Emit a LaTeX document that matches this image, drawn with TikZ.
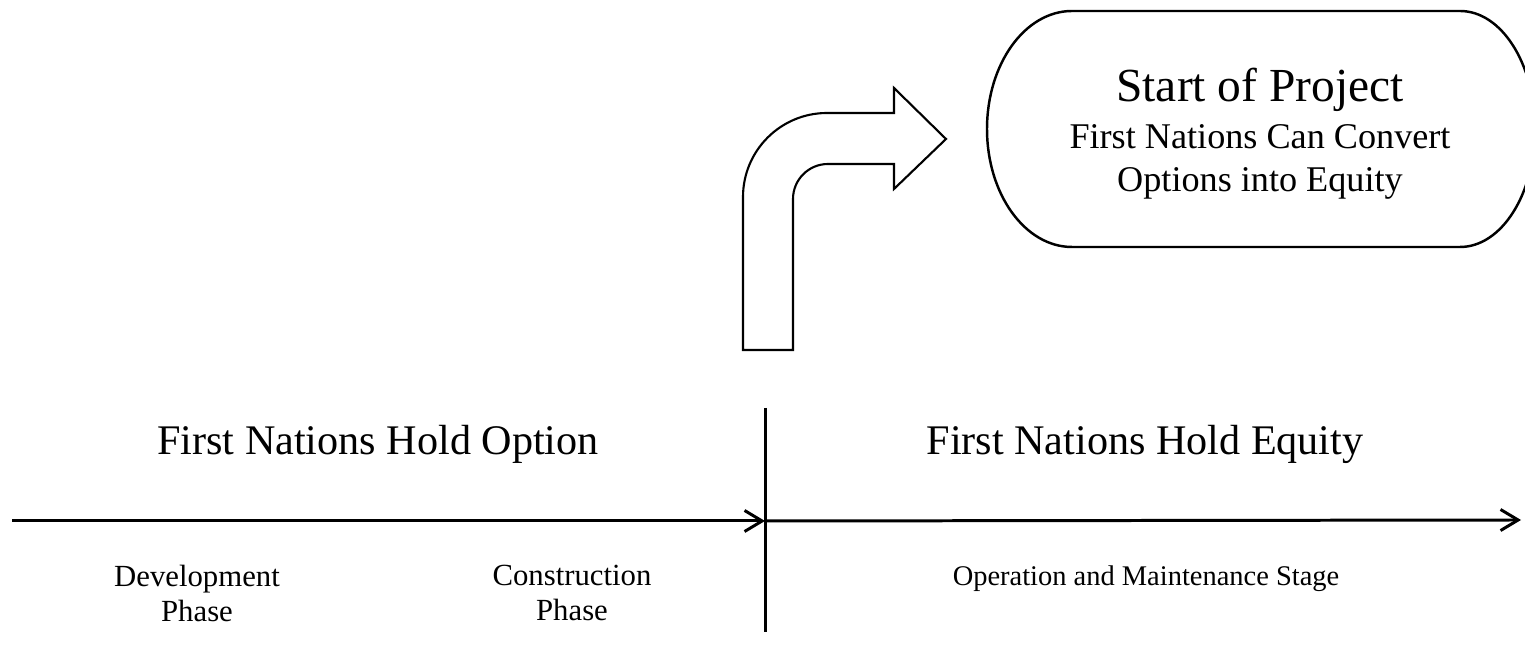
\documentclass[tikz,border=0pt]{standalone}
\usepackage{fontspec}
\setmainfont{Liberation Serif}
\usetikzlibrary{arrows.meta}

\begin{document}
\begin{tikzpicture}[x=0.02cm, y=0.02cm,
    startbox/.style={minimum width=11cm, minimum height=4.54cm, align=center, font=\fontsize{20.6}{24.5}\selectfont},
    boxline/.style={line width=1.4pt},
    holdlabel/.style={anchor=base, font=\fontsize{24}{28}\selectfont},
    phase/.style={anchor=north, align=center, font=\fontsize{17.5}{20}\selectfont},
    arr/.style={-{Straight Barb[length=10pt, width=12pt]}, line width=1.7pt},
    divider/.style={line width=1.7pt},
    bentarrow/.style={line width=1.2pt, fill=white},
    every node/.style={inner sep=0pt}
]
\clip (0,0) rectangle (1525,658);

% Start box
\node[startbox] (start) at (1260,524.5) {{\fontsize{27}{30}\selectfont Start of Project}\\[2pt]First Nations Can Convert\\Options into Equity};
\draw[boxline] (1072,647) -- (1460,647) arc[start angle=90, end angle=-90, x radius=75, y radius=118]
    -- (1072,411) arc[start angle=270, end angle=90, x radius=85, y radius=118] -- cycle;

% Bent arrow
\draw[bentarrow] (743,308) -- (743,461) arc[start angle=180, end angle=90, radius=84]
    -- (894,545) -- (894,570) -- (946,519) -- (894,469) -- (894,494) -- (828,494)
    arc[start angle=90, end angle=180, radius=35] -- (793,308) -- cycle;

% Timeline
\coordinate (tstart) at (12,137);
\coordinate (split) at (765,137);
\coordinate (tend) at (1521,138);
\coordinate (divtop) at (765,250);
\coordinate (divbot) at (765,26);
\draw[arr] (tstart) -- (split);
\draw[arr] (split) -- (tend);
\draw[divider] (divtop) -- (divbot);

% Labels
\node[holdlabel] (holdopt) at (378,203) {First Nations Hold Option};
\node[holdlabel] (holdeq) at (1145,203) {First Nations Hold Equity};
\node[phase] (devel) at (197,93) {Development\\Phase};
\node[phase] (constr) at (572,93) {Construction\\Phase};
\node[phase, font=\fontsize{16.2}{20}\selectfont] (operate) at (1146,93) {Operation and Maintenance Stage};

\end{tikzpicture}
\end{document}
